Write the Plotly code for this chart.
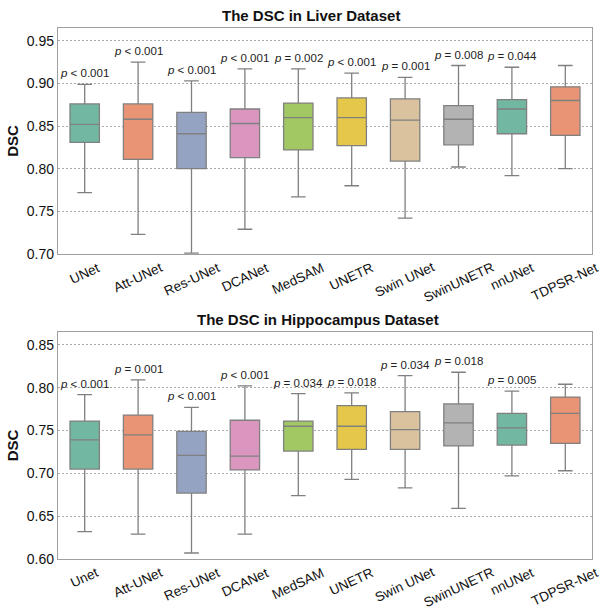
import plotly.graph_objects as go

# ---------------- data ----------------
liver_methods = ["UNet", "Att-UNet", "Res-UNet", "DCANet", "MedSAM", "UNETR",
                 "Swin UNet", "SwinUNETR", "nnUNet", "TDPSR-Net"]
liver_upper = [0.899, 0.925, 0.903, 0.917, 0.917, 0.912, 0.907, 0.921, 0.919, 0.921]
liver_q3 = [0.876, 0.876, 0.866, 0.870, 0.877, 0.883, 0.882, 0.874, 0.881, 0.896]
liver_median = [0.852, 0.858, 0.841, 0.853, 0.860, 0.860, 0.857, 0.858, 0.870, 0.880]
liver_q1 = [0.831, 0.811, 0.800, 0.813, 0.822, 0.827, 0.809, 0.828, 0.841, 0.839]
liver_lower = [0.772, 0.723, 0.701, 0.729, 0.767, 0.780, 0.742, 0.802, 0.792, 0.800]
liver_p = ["< 0.001", "< 0.001", "< 0.001", "< 0.001", "= 0.002", "< 0.001",
           "= 0.001", "= 0.008", "= 0.044", ""]

hippo_methods = ["Unet", "Att-UNet", "Res-UNet", "DCANet", "MedSAM", "UNETR",
                 "Swin UNet", "SwinUNETR", "nnUNet", "TDPSR-Net"]
hippo_upper = [0.792, 0.809, 0.777, 0.802, 0.793, 0.794, 0.814, 0.818, 0.796, 0.804]
hippo_q3 = [0.761, 0.768, 0.749, 0.762, 0.761, 0.779, 0.772, 0.781, 0.770, 0.789]
hippo_median = [0.739, 0.745, 0.721, 0.720, 0.755, 0.755, 0.751, 0.759, 0.753, 0.770]
hippo_q1 = [0.705, 0.705, 0.677, 0.704, 0.726, 0.728, 0.728, 0.732, 0.733, 0.735]
hippo_lower = [0.632, 0.629, 0.607, 0.629, 0.674, 0.693, 0.683, 0.659, 0.697, 0.703]
hippo_p = ["< 0.001", "= 0.001", "< 0.001", "< 0.001", "= 0.034", "= 0.018",
           "= 0.034", "= 0.018", "= 0.005", ""]

colors = ["#72b7a1", "#e99575", "#95a3c3", "#db96c0", "#a2c864", "#e5c849",
          "#dbc29e", "#b3b3b3", "#72b7a1", "#e99575"]

titles = ["The DSC in Liver Dataset", "The DSC in Hippocampus Dataset"]

# ---------------- figure ----------------
W, H = 600, 612
FONT = "Liberation Sans, Arial, sans-serif"
fig = go.Figure()

panels = [
    (liver_methods, liver_lower, liver_q1, liver_median, liver_q3, liver_upper, liver_p, [0.70, 0.965]),
    (hippo_methods, hippo_lower, hippo_q1, hippo_median, hippo_q3, hippo_upper, hippo_p, [0.60, 0.865]),
]
# pixel bounds of each plot area (top, bottom), title centre x / y
bounds = [(28, 254), (332, 559)]
title_pos = [(311, 15), (318, 319)]
x_dom = [58 / W, 592 / W]

annotations = []
for i, (methods, lo, q1, med, q3, up, pv, yr) in enumerate(panels):
    xa = "x" if i == 0 else "x2"
    ya = "y" if i == 0 else "y2"
    for j, m in enumerate(methods):
        fig.add_trace(go.Box(
            x=[m], q1=[q1[j]], median=[med[j]], q3=[q3[j]],
            lowerfence=[lo[j]], upperfence=[up[j]],
            fillcolor=colors[j], line=dict(color="#808080", width=1.3),
            width=0.55, whiskerwidth=0.5, boxpoints=False,
            xaxis=xa, yaxis=ya, showlegend=False, hoverinfo="skip",
        ))
        if pv[j]:
            annotations.append(dict(
                x=m, y=up[j], xref=xa, yref=ya, text="<i>p</i> " + pv[j].replace("<", "&lt;"),
                showarrow=False, yanchor="bottom", yshift=3,
                font=dict(family=FONT, size=11.5, color="#222222"),
            ))
        # rotated category labels, centred on the tick as in the original
        annotations.append(dict(
            x=m, y=0, xref=xa, yref=("y domain" if i == 0 else "y2 domain"),
            text=m, showarrow=False, textangle=-25, xanchor="center", yanchor="top",
            yshift=-3, font=dict(family=FONT, size=13.5, color="#111111"),
        ))
    top_px, bot_px = bounds[i]
    dom = [1 - bot_px / H, 1 - top_px / H]
    axis_common = dict(showline=True, mirror=True, linecolor="#a0a0a0", linewidth=1.3,
                       automargin=False, zeroline=False)
    fig.update_layout(**{
        ("xaxis" if i == 0 else "xaxis2"): dict(
            domain=x_dom, anchor=ya, type="category", categoryorder="array",
            categoryarray=methods, showticklabels=False, showgrid=False,
            range=[-0.5, 9.5], **axis_common),
        ("yaxis" if i == 0 else "yaxis2"): dict(
            domain=dom, anchor=xa, range=yr, dtick=0.05, tickformat=".2f",
            showgrid=True, gridcolor="#aaaaaa", griddash="2px,2px", gridwidth=0.8,
            tickfont=dict(family=FONT, size=14, color="#111111"),
            title=dict(text="<b>DSC</b>", font=dict(family=FONT, size=15, color="#111111"),
                       standoff=4),
            **axis_common),
    })
    tx, ty = title_pos[i]
    annotations.append(dict(
        x=tx / W, y=1 - ty / H, xref="paper", yref="paper",
        text="<b>" + titles[i] + "</b>", showarrow=False, yanchor="middle",
        font=dict(family=FONT, size=15, color="#111111"),
    ))

fig.update_layout(
    width=W, height=H, margin=dict(l=0, r=0, t=0, b=0),
    plot_bgcolor="white", paper_bgcolor="white",
    annotations=annotations, boxmode="overlay",
)

fig.write_html("out.html", config={"displayModeBar": False},
               post_script="document.body.style.margin='0';")
